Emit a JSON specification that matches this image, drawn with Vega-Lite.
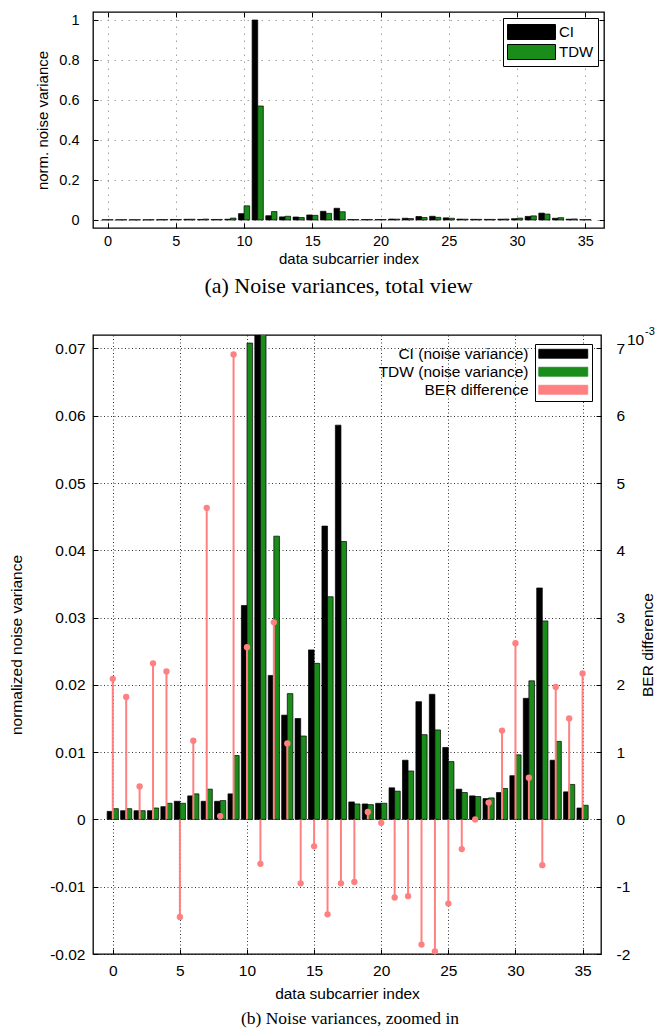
{
  "$schema": "https://vega.github.io/schema/vega-lite/v6.json",
  "padding": {"left": 9, "top": 10, "right": 0, "bottom": 0},
  "datasets": {
    "nv": [
      {"idx":0,"series":"CI","value":0.0012},{"idx":1,"series":"CI","value":0.0013},{"idx":2,"series":"CI","value":0.0013},{"idx":3,"series":"CI","value":0.0013},
      {"idx":4,"series":"CI","value":0.0019},{"idx":5,"series":"CI","value":0.0027},{"idx":6,"series":"CI","value":0.0035},{"idx":7,"series":"CI","value":0.0027},
      {"idx":8,"series":"CI","value":0.0027},{"idx":9,"series":"CI","value":0.0038},{"idx":10,"series":"CI","value":0.0318},{"idx":11,"series":"CI","value":1.0},
      {"idx":12,"series":"CI","value":0.0214},{"idx":13,"series":"CI","value":0.0155},{"idx":14,"series":"CI","value":0.0150},{"idx":15,"series":"CI","value":0.0252},
      {"idx":16,"series":"CI","value":0.0436},{"idx":17,"series":"CI","value":0.0586},{"idx":18,"series":"CI","value":0.0026},{"idx":19,"series":"CI","value":0.0023},
      {"idx":20,"series":"CI","value":0.0024},{"idx":21,"series":"CI","value":0.0047},{"idx":22,"series":"CI","value":0.0088},{"idx":23,"series":"CI","value":0.0175},
      {"idx":24,"series":"CI","value":0.0186},{"idx":25,"series":"CI","value":0.0107},{"idx":26,"series":"CI","value":0.0045},{"idx":27,"series":"CI","value":0.0035},
      {"idx":28,"series":"CI","value":0.0031},{"idx":29,"series":"CI","value":0.0040},{"idx":30,"series":"CI","value":0.0065},{"idx":31,"series":"CI","value":0.0180},
      {"idx":32,"series":"CI","value":0.0344},{"idx":33,"series":"CI","value":0.0088},{"idx":34,"series":"CI","value":0.0041},{"idx":35,"series":"CI","value":0.0017},
      {"idx":0,"series":"TDW","value":0.0016},{"idx":1,"series":"TDW","value":0.0016},{"idx":2,"series":"TDW","value":0.0013},{"idx":3,"series":"TDW","value":0.0017},
      {"idx":4,"series":"TDW","value":0.0024},{"idx":5,"series":"TDW","value":0.0024},{"idx":6,"series":"TDW","value":0.0038},{"idx":7,"series":"TDW","value":0.0045},
      {"idx":8,"series":"TDW","value":0.0028},{"idx":9,"series":"TDW","value":0.0095},{"idx":10,"series":"TDW","value":0.0708},{"idx":11,"series":"TDW","value":0.57},
      {"idx":12,"series":"TDW","value":0.0421},{"idx":13,"series":"TDW","value":0.0187},{"idx":14,"series":"TDW","value":0.0124},{"idx":15,"series":"TDW","value":0.0232},
      {"idx":16,"series":"TDW","value":0.0331},{"idx":17,"series":"TDW","value":0.0413},{"idx":18,"series":"TDW","value":0.0023},{"idx":19,"series":"TDW","value":0.0022},
      {"idx":20,"series":"TDW","value":0.0024},{"idx":21,"series":"TDW","value":0.0042},{"idx":22,"series":"TDW","value":0.0072},{"idx":23,"series":"TDW","value":0.0126},
      {"idx":24,"series":"TDW","value":0.0133},{"idx":25,"series":"TDW","value":0.0086},{"idx":26,"series":"TDW","value":0.0040},{"idx":27,"series":"TDW","value":0.0034},
      {"idx":28,"series":"TDW","value":0.0032},{"idx":29,"series":"TDW","value":0.0046},{"idx":30,"series":"TDW","value":0.0096},{"idx":31,"series":"TDW","value":0.0206},
      {"idx":32,"series":"TDW","value":0.0295},{"idx":33,"series":"TDW","value":0.0116},{"idx":34,"series":"TDW","value":0.0052},{"idx":35,"series":"TDW","value":0.0021}
    ],
    "ber": [
      {"idx":0,"ber":0.00209},{"idx":1,"ber":0.00182},{"idx":2,"ber":0.00049},{"idx":3,"ber":0.00232},{"idx":4,"ber":0.00220},{"idx":5,"ber":-0.00145},
      {"idx":6,"ber":0.00117},{"idx":7,"ber":0.00463},{"idx":8,"ber":0.00005},{"idx":9,"ber":0.00691},{"idx":10,"ber":0.00256},{"idx":11,"ber":-0.00066},
      {"idx":12,"ber":0.00293},{"idx":13,"ber":0.00113},{"idx":14,"ber":-0.00095},{"idx":15,"ber":-0.00040},{"idx":16,"ber":-0.00141},{"idx":17,"ber":-0.00095},
      {"idx":18,"ber":-0.00093},{"idx":19,"ber":0.00011},{"idx":20,"ber":-0.00005},{"idx":21,"ber":-0.00116},{"idx":22,"ber":-0.00114},{"idx":23,"ber":-0.00186},
      {"idx":24,"ber":-0.00196},{"idx":25,"ber":-0.00125},{"idx":26,"ber":-0.00044},{"idx":27,"ber":0.0},{"idx":28,"ber":0.00025},{"idx":29,"ber":0.00132},
      {"idx":30,"ber":0.00262},{"idx":31,"ber":0.00062},{"idx":32,"ber":-0.00068},{"idx":33,"ber":0.00197},{"idx":34,"ber":0.00150},{"idx":35,"ber":0.00217}
    ]
  },
  "bounds": "flush",
  "spacing": 107,
  "resolve": {"scale": {"color": "independent", "x": "independent", "y": "independent"}, "legend": {"color": "independent"}},
  "vconcat": [
    {
      "width": 511,
      "height": 216,
      "title": {"text": "(a) Noise variances, total view", "orient": "bottom", "anchor": "middle", "frame": "group", "font": "Liberation Serif", "fontSize": 22, "fontWeight": "normal", "color": "#000", "offset": 9, "dx": -10},
      "data": {"name": "nv"},
      "layer": [
        {
          "transform": [{"filter": "datum.series === 'CI'"}],
          "mark": {"type": "bar", "orient": "vertical", "width": 5.6, "xOffset": -2.8, "stroke": "#000", "strokeWidth": 0.7},
          "encoding": {
            "x": {"field": "idx", "type": "quantitative", "scale": {"domain": [-0.7, 36], "nice": false},
                  "axis": {"orient": "bottom", "values": [0,5,10,15,20,25,30,35], "grid": true, "gridColor": "#8c8c8c", "gridDash": [1.5, 5.5], "labelFontSize": 14.5, "labelPadding": 11, "title": "data subcarrier index", "titleFontSize": 15, "titlePadding": 4}},
            "y": {"field": "value", "type": "quantitative", "scale": {"domain": [-0.04, 1.04], "nice": false},
                  "axis": {"orient": "left", "values": [0,0.2,0.4,0.6,0.8,1], "grid": true, "gridColor": "#8c8c8c", "gridDash": [1.5, 5.5], "labelExpr": "format(datum.value, '~g')", "labelFontSize": 14.5, "labelPadding": 19, "title": "norm. noise variance", "titleFontSize": 15, "titlePadding": 8}},
            "color": {"field": "series", "type": "nominal", "scale": {"domain": ["CI", "TDW"], "range": ["#000000", "#1a8c1a"]},
                      "legend": {"orient": "top-right", "offset": 6, "title": null, "fillColor": "#ffffff", "strokeColor": "#000000", "padding": 4, "labelFont": "Liberation Sans", "labelFontSize": 15, "labelColor": "#000", "labelOffset": 32, "symbolOffset": 0, "rowPadding": 0, "symbolSize": 361, "symbolType": "M-1,-0.79H4.05V0.79H-1Z", "symbolStrokeColor": "#000000", "symbolStrokeWidth": 1}}
          }
        },
        {
          "transform": [{"filter": "datum.series === 'TDW'"}],
          "mark": {"type": "bar", "orient": "vertical", "width": 5.6, "xOffset": 2.8, "stroke": "#000", "strokeWidth": 0.7},
          "encoding": {
            "x": {"field": "idx", "type": "quantitative", "scale": {"domain": [-0.7, 36], "nice": false},
                  "axis": {"orient": "top", "values": [0,5,10,15,20,25,30,35], "grid": false, "labels": false, "title": null}},
            "y": {"field": "value", "type": "quantitative", "scale": {"domain": [-0.04, 1.04], "nice": false},
                  "axis": {"orient": "right", "values": [0,0.2,0.4,0.6,0.8,1], "grid": false, "labels": false, "title": null}},
            "color": {"field": "series", "type": "nominal"}
          }
        }
      ],
      "resolve": {"axis": {"x": "independent", "y": "independent"}}
    },
    {
      "width": 508,
      "height": 619,
      "title": {"text": "(b) Noise variances, zoomed in", "orient": "bottom", "anchor": "middle", "frame": "group", "font": "Liberation Serif", "fontSize": 17.5, "fontWeight": "normal", "color": "#000", "offset": 8, "dx": 3},
      "layer": [
        {
          "data": {"name": "nv"},
          "layer": [
            {
              "transform": [{"filter": "datum.series === 'CI'"}],
              "mark": {"type": "bar", "orient": "vertical", "width": 5.6, "xOffset": -2.8, "stroke": "#000", "strokeWidth": 0.7, "clip": true},
              "encoding": {
                "x": {"field": "idx", "type": "quantitative", "scale": {"domain": [-1.1, 36], "nice": false},
                      "axis": {"orient": "bottom", "values": [0,5,10,15,20,25,30,35], "grid": true, "labelFontSize": 15.5, "labelPadding": 14, "title": "data subcarrier index", "titleFontSize": 15.5, "titlePadding": 8}},
                "y": {"field": "value", "type": "quantitative", "scale": {"domain": [-0.02, 0.072], "nice": false},
                      "axis": {"orient": "left", "values": [-0.02,-0.01,0,0.01,0.02,0.03,0.04,0.05,0.06,0.07], "grid": true, "labelExpr": "(datum.value < 0 ? '-' : '') + format(abs(datum.value), '~g')", "labelFontSize": 15.5, "labelPadding": 13, "title": "normalized noise variance", "titleFontSize": 15.5, "titlePadding": 25}},
                "color": {"field": "series", "type": "nominal", "scale": {"domain": ["CI", "TDW", "BER difference"], "range": ["#000000", "#1a8c1a", "#ff8080"]},
                          "legend": {"orient": "top-right", "offset": 9, "title": null, "fillColor": "#ffffff", "strokeColor": "#000000", "padding": 2, "labelFont": "Liberation Sans", "labelFontSize": 15.5, "labelColor": "#000", "labelAlign": "right", "labelOffset": -24, "symbolOffset": 0, "labelLimit": 400, "rowPadding": 1, "symbolSize": 144, "symbolType": "M-1,-0.75H7.17V0.75H-1Z", "symbolStrokeWidth": 0.8,
                                     "labelExpr": "datum.label == 'BER difference' ? datum.label : datum.label + ' (noise variance)'"}}
              }
            },
            {
              "transform": [{"filter": "datum.series === 'TDW'"}],
              "mark": {"type": "bar", "orient": "vertical", "width": 5.6, "xOffset": 2.8, "stroke": "#000", "strokeWidth": 0.7, "clip": true},
              "encoding": {
                "x": {"field": "idx", "type": "quantitative", "scale": {"domain": [-1.1, 36], "nice": false},
                      "axis": {"orient": "bottom", "values": [0,5,10,15,20,25,30,35], "grid": true, "labelFontSize": 15.5, "labelPadding": 14, "title": "data subcarrier index", "titleFontSize": 15.5, "titlePadding": 8}},
                "y": {"field": "value", "type": "quantitative", "scale": {"domain": [-0.02, 0.072], "nice": false},
                      "axis": {"orient": "left", "values": [-0.02,-0.01,0,0.01,0.02,0.03,0.04,0.05,0.06,0.07], "grid": true, "labelExpr": "(datum.value < 0 ? '-' : '') + format(abs(datum.value), '~g')", "labelFontSize": 15.5, "labelPadding": 13, "title": "normalized noise variance", "titleFontSize": 15.5, "titlePadding": 25}},
                "color": {"field": "series", "type": "nominal"}
              }
            }
          ]
        },
        {
          "layer": [
            {
              "data": {"name": "ber"},
              "mark": {"type": "rule", "strokeWidth": 2},
              "encoding": {
                "x": {"field": "idx", "type": "quantitative", "scale": {"domain": [-1.1, 36], "nice": false},
                      "axis": {"orient": "bottom", "values": [0,5,10,15,20,25,30,35], "grid": true, "labelFontSize": 15.5, "labelPadding": 14, "title": "data subcarrier index", "titleFontSize": 15.5, "titlePadding": 8}},
                "y": {"field": "ber", "type": "quantitative", "scale": {"domain": [-0.002, 0.0072], "nice": false},
                      "axis": {"orient": "right", "values": [-0.002,-0.001,0,0.001,0.002,0.003,0.004,0.005,0.006,0.007], "grid": false, "labelExpr": "(datum.value < 0 ? '-' : '') + format(abs(round(datum.value * 1000)), 'd')", "labelFontSize": 15.5, "labelPadding": 20, "labelAlign": "left", "title": "BER difference", "titleFontSize": 15.5, "titleAngle": 270, "titleBaseline": "top", "titlePadding": 11}},
                "y2": {"datum": 0},
                "color": {"datum": "BER difference"}
              }
            },
            {
              "data": {"name": "ber"},
              "mark": {"type": "circle", "size": 40, "opacity": 1},
              "encoding": {
                "x": {"field": "idx", "type": "quantitative", "scale": {"domain": [-1.1, 36], "nice": false},
                      "axis": {"orient": "bottom", "values": [0,5,10,15,20,25,30,35], "grid": true, "labelFontSize": 15.5, "labelPadding": 14, "title": "data subcarrier index", "titleFontSize": 15.5, "titlePadding": 8}},
                "y": {"field": "ber", "type": "quantitative", "scale": {"domain": [-0.002, 0.0072], "nice": false},
                      "axis": {"orient": "right", "values": [-0.002,-0.001,0,0.001,0.002,0.003,0.004,0.005,0.006,0.007], "grid": false, "labelExpr": "(datum.value < 0 ? '-' : '') + format(abs(round(datum.value * 1000)), 'd')", "labelFontSize": 15.5, "labelPadding": 20, "labelAlign": "left", "title": "BER difference", "titleFontSize": 15.5, "titleAngle": 270, "titleBaseline": "top", "titlePadding": 11}},
                "color": {"datum": "BER difference"}
              }
            },
            {
              "data": {"values": [{"t": "10"}]},
              "mark": {"type": "text", "align": "left", "baseline": "alphabetic", "dx": 31, "dy": 10, "font": "Liberation Sans", "fontSize": 15.5, "color": "#000"},
              "encoding": {
                "x": {"datum": 36, "type": "quantitative", "scale": {"domain": [-1.1, 36], "nice": false},
                      "axis": {"orient": "bottom", "values": [0,5,10,15,20,25,30,35], "grid": true, "labelFontSize": 15.5, "labelPadding": 14, "title": "data subcarrier index", "titleFontSize": 15.5, "titlePadding": 8}},
                "y": {"datum": 0.0072, "type": "quantitative", "scale": {"domain": [-0.002, 0.0072], "nice": false},
                      "axis": {"orient": "right", "values": [-0.002,-0.001,0,0.001,0.002,0.003,0.004,0.005,0.006,0.007], "grid": false, "labelExpr": "(datum.value < 0 ? '-' : '') + format(abs(round(datum.value * 1000)), 'd')", "labelFontSize": 15.5, "labelPadding": 20, "labelAlign": "left", "title": "BER difference", "titleFontSize": 15.5, "titleAngle": 270, "titleBaseline": "top", "titlePadding": 11}},
                "text": {"field": "t"}
              }
            },
            {
              "data": {"values": [{"t": "-3"}]},
              "mark": {"type": "text", "align": "left", "baseline": "alphabetic", "dx": 49, "dy": 0, "font": "Liberation Sans", "fontSize": 11, "color": "#000"},
              "encoding": {
                "x": {"datum": 36, "type": "quantitative", "scale": {"domain": [-1.1, 36], "nice": false},
                      "axis": {"orient": "bottom", "values": [0,5,10,15,20,25,30,35], "grid": true, "labelFontSize": 15.5, "labelPadding": 14, "title": "data subcarrier index", "titleFontSize": 15.5, "titlePadding": 8}},
                "y": {"datum": 0.0072, "type": "quantitative", "scale": {"domain": [-0.002, 0.0072], "nice": false},
                      "axis": {"orient": "right", "values": [-0.002,-0.001,0,0.001,0.002,0.003,0.004,0.005,0.006,0.007], "grid": false, "labelExpr": "(datum.value < 0 ? '-' : '') + format(abs(round(datum.value * 1000)), 'd')", "labelFontSize": 15.5, "labelPadding": 20, "labelAlign": "left", "title": "BER difference", "titleFontSize": 15.5, "titleAngle": 270, "titleBaseline": "top", "titlePadding": 11}},
                "text": {"field": "t"}
              }
            }
          ]
        }
      ],
      "resolve": {"scale": {"y": "independent"}}
    }
  ],
  "config": {
    "view": {"stroke": "#000000", "strokeWidth": 1.3},
    "axis": {"domain": false, "ticks": true, "tickColor": "#000", "tickSize": -5, "tickWidth": 1, "labelColor": "#000", "titleColor": "#000", "labelFont": "Liberation Sans", "titleFont": "Liberation Sans", "titleFontWeight": "normal", "gridColor": "#000", "gridDash": [1, 2.5], "gridOpacity": 1, "gridWidth": 0.8, "labelFlush": false, "labelOverlap": false}
  }
}
